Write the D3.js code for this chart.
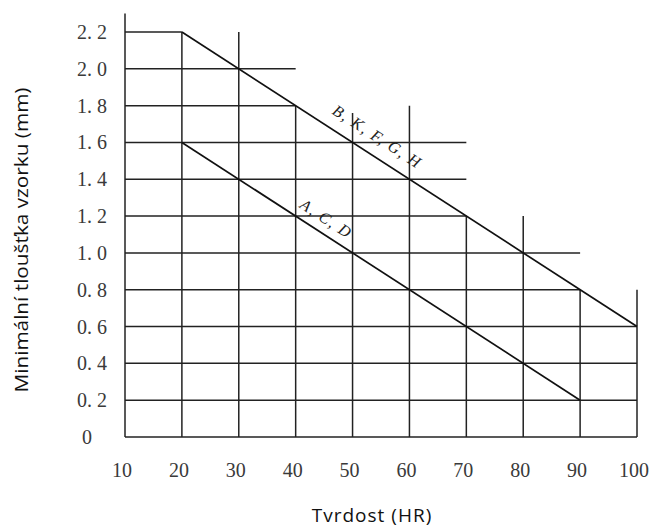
<!DOCTYPE html>
<html>
<head>
<meta charset="utf-8">
<script src="https://cdn.jsdelivr.net/npm/d3@7"></script>
<style>
  body { margin: 0; background: #fff; }
  svg { display: block; }
</style>
</head>
<body>
<svg id="chart" width="654" height="527"></svg>
<script>
// hardness ticks (HR) and thickness ticks (mm)
const xTicks = [10, 20, 30, 40, 50, 60, 70, 80, 90, 100];
const yTicks = [0, 0.2, 0.4, 0.6, 0.8, 1.0, 1.2, 1.4, 1.6, 1.8, 2.0, 2.2];
const yTickLabels = ["0", "0. 2", "0. 4", "0. 6", "0. 8", "1. 0", "1. 2", "1. 4", "1. 6", "1. 8", "2. 0", "2. 2"];

// grid is a staircase: each horizontal line runs from 10 to its end, each vertical from 0 to its top
const hLineEnds = [100, 100, 100, 100, 90, 90, 70, 70, 70, 40, 40, 20];
const vLineTops = [2.3, 2.2, 2.2, 1.8, 1.76, 1.8, 1.2, 1.2, 0.8, 0.8];

// the two limit lines
const scaleBKFGH = [{hr: 20, t: 2.2}, {hr: 100, t: 0.6}];
const scaleACD = [{hr: 20, t: 1.6}, {hr: 90, t: 0.2}];

const svg = d3.select("#chart");

const x = d3.scaleLinear().domain([10, 100]).range([125, 637]);
const y = d3.scaleLinear().domain([0, 2.2]).range([437, 32]);

const grid = svg.append("g").attr("class", "grid")
    .attr("stroke", "#222")
    .attr("stroke-width", 1.5);

grid.selectAll("line.h")
    .data(yTicks)
    .enter()
    .append("line")
    .attr("class", "h")
    .attr("x1", x(10))
    .attr("x2", (d, i) => x(hLineEnds[i]))
    .attr("y1", d => y(d))
    .attr("y2", d => y(d));

grid.selectAll("line.v")
    .data(xTicks)
    .enter()
    .append("line")
    .attr("class", "v")
    .attr("x1", d => x(d))
    .attr("x2", d => x(d))
    .attr("y1", y(0))
    .attr("y2", (d, i) => y(vLineTops[i]));

const line = d3.line()
    .x(d => x(d.hr))
    .y(d => y(d.t));

svg.selectAll("path.limit")
    .data([scaleBKFGH, scaleACD])
    .enter()
    .append("path")
    .attr("class", "limit")
    .attr("d", line)
    .attr("fill", "none")
    .attr("stroke", "#111")
    .attr("stroke-width", 1.7);

// curve labels, written along the lines
const curveLabels = [
    {text: "B, K, F, G, H", hr: 52.6, t: 1.548, dy: -13},
    {text: "A, C, D", hr: 44, t: 1.12, dy: -9}
];
const angle = Math.atan2(y(0.6) - y(2.2), x(100) - x(20)) * 180 / Math.PI;

svg.selectAll("text.curve")
    .data(curveLabels)
    .enter()
    .append("text")
    .attr("class", "curve")
    .attr("transform", d => `translate(${x(d.hr)},${y(d.t)}) rotate(${angle})`)
    .attr("dy", d => d.dy)
    .attr("text-anchor", "middle")
    .style("font-family", "'Liberation Serif', serif")
    .style("font-style", "italic")
    .style("font-size", "16px")
    .style("letter-spacing", "1.5px")
    .attr("fill", "#222")
    .text(d => d.text);

// tick labels
svg.selectAll("text.ytick")
    .data(yTicks)
    .enter()
    .append("text")
    .attr("class", "ytick")
    .attr("x", d => d === 0 ? 82 : 77)
    .attr("y", d => y(d))
    .attr("dy", "0.35em")
    .style("font-family", "'Liberation Serif', serif")
    .style("font-size", "20px")
    .attr("fill", "#3a3a3a")
    .text((d, i) => yTickLabels[i]);

svg.selectAll("text.xtick")
    .data(xTicks)
    .enter()
    .append("text")
    .attr("class", "xtick")
    .attr("x", d => x(d) - 3)
    .attr("y", 477)
    .attr("text-anchor", "middle")
    .style("font-family", "'Liberation Serif', serif")
    .style("font-size", "20px")
    .attr("fill", "#3a3a3a")
    .text(d => d);

// axis titles
svg.append("text")
    .attr("transform", "translate(28,240) rotate(-90)")
    .attr("text-anchor", "middle")
    .attr("textLength", 305)
    .attr("lengthAdjust", "spacingAndGlyphs")
    .style("font-family", "'Open Sans', sans-serif")
    .style("font-size", "19px")
    .attr("fill", "#111")
    .text("Minimální tloušťka vzorku (mm)");

svg.append("text")
    .attr("x", 372)
    .attr("y", 522)
    .attr("text-anchor", "middle")
    .style("font-family", "'Open Sans', sans-serif")
    .style("font-size", "19px")
    .style("letter-spacing", "1px")
    .attr("fill", "#111")
    .text("Tvrdost (HR)");
</script>
</body>
</html>
